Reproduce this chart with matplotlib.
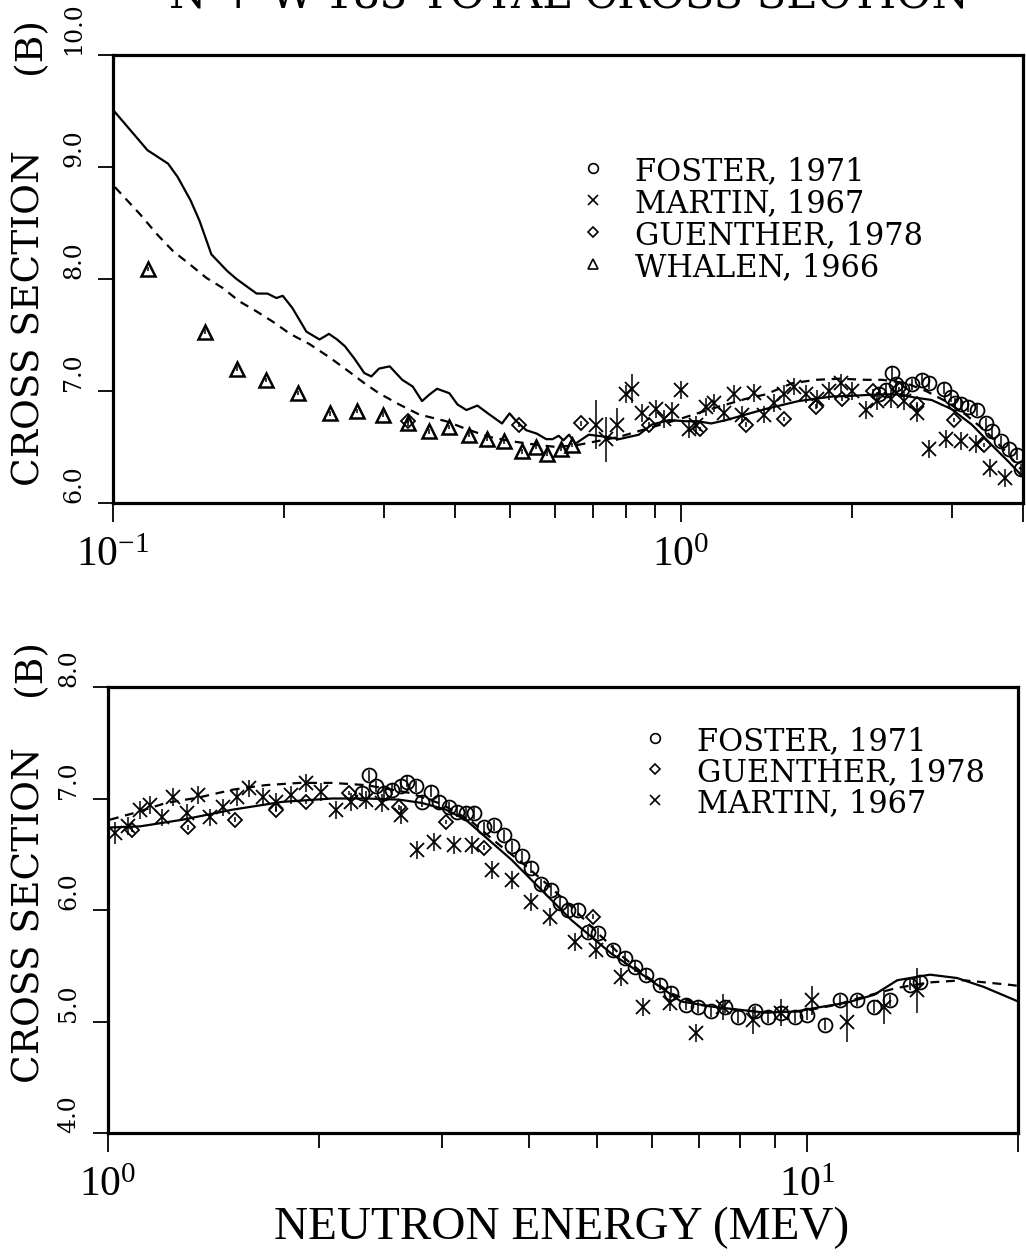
import math
import matplotlib
matplotlib.use("Agg")
import matplotlib.pyplot as plt
from matplotlib.lines import Line2D
from matplotlib.ticker import FixedLocator, NullFormatter

plt.rcParams['mathtext.fontset'] = 'stix'

# ---- upper panel: 0.1 - 4 MeV ----
top_eval_e = [0.1008, 0.115, 0.125, 0.130, 0.137, 0.142, 0.149, 0.159, 0.165, 0.179,
              0.187, 0.194, 0.199, 0.207, 0.219, 0.231, 0.240, 0.248, 0.256, 0.266,
              0.277, 0.285, 0.294, 0.307, 0.323, 0.337, 0.350, 0.361, 0.372, 0.391,
              0.404, 0.419, 0.438, 0.460, 0.469, 0.484, 0.499, 0.513, 0.534, 0.557,
              0.579, 0.594, 0.609, 0.621, 0.635, 0.652, 0.688, 0.740, 0.778, 0.843,
              0.888, 0.953, 1.02, 1.07, 1.13, 1.20, 1.30, 1.41, 1.61, 1.84,
              2.05, 2.23, 2.42, 2.59, 2.76, 2.99, 3.25, 3.52, 3.77, 3.97]
top_eval_xs = [9.49, 9.15, 9.03, 8.91, 8.70, 8.52, 8.22, 8.07, 8.00, 7.87,
               7.87, 7.83, 7.85, 7.74, 7.53, 7.46, 7.51, 7.46, 7.40, 7.29,
               7.16, 7.13, 7.20, 7.22, 7.10, 7.04, 6.91, 6.97, 7.02, 6.98,
               6.88, 6.83, 6.87, 6.79, 6.76, 6.71, 6.80, 6.73, 6.65, 6.62,
               6.57, 6.57, 6.60, 6.56, 6.61, 6.53, 6.61, 6.59, 6.57, 6.61,
               6.70, 6.74, 6.73, 6.73, 6.71, 6.74, 6.79, 6.84, 6.91, 6.95,
               6.96, 6.97, 6.97, 6.94, 6.92, 6.84, 6.70, 6.52, 6.37, 6.25]

top_calc_e = [0.1008, 0.1115, 0.1195, 0.1275, 0.1366, 0.146, 0.156, 0.167, 0.179, 0.191,
              0.205, 0.2216, 0.2406, 0.2608, 0.277, 0.294, 0.319, 0.346, 0.386, 0.419,
              0.460, 0.505, 0.557, 0.603, 0.661, 0.708, 0.778, 0.866, 0.995, 1.13,
              1.30, 1.41, 1.57, 1.73, 1.90, 2.11, 2.26, 2.49, 2.70, 2.92,
              3.17, 3.44, 3.73, 3.97]
top_calc_xs = [8.82, 8.58, 8.40, 8.25, 8.13, 8.01, 7.92, 7.80, 7.71, 7.62,
               7.51, 7.42, 7.30, 7.17, 7.07, 6.98, 6.88, 6.79, 6.73, 6.66,
               6.59, 6.55, 6.52, 6.50, 6.52, 6.55, 6.59, 6.66, 6.75, 6.84,
               6.93, 6.97, 7.07, 7.10, 7.11, 7.10, 7.10, 7.07, 7.00, 6.91,
               6.79, 6.64, 6.46, 6.30]

whalen_e = [0.1152, 0.1451, 0.1652, 0.186, 0.2115, 0.2407, 0.2685, 0.2983, 0.330, 0.360,
            0.391, 0.423, 0.456, 0.488, 0.525, 0.555, 0.582, 0.616, 0.644]
whalen_xs = [8.09, 7.53, 7.20, 7.10, 6.98, 6.80, 6.82, 6.79, 6.71, 6.64,
             6.68, 6.61, 6.57, 6.55, 6.46, 6.50, 6.44, 6.48, 6.52]

guenther_top_e = [0.330, 0.519, 0.667, 0.879, 1.08, 1.30, 1.52, 1.73, 1.92, 2.18,
                  2.42, 2.60, 3.02, 3.41]
guenther_top_xs = [6.73, 6.70, 6.71, 6.70, 6.66, 6.70, 6.75, 6.86, 6.93, 7.00,
                   7.02, 6.88, 6.74, 6.52]

martin_top_e = [0.709, 0.738, 0.772, 0.801, 0.820, 0.854, 0.904, 0.934, 0.964, 1.000,
                1.033, 1.063, 1.106, 1.143, 1.190, 1.239, 1.280, 1.344, 1.399, 1.457,
                1.517, 1.580, 1.658, 1.734, 1.820, 1.911, 1.998, 2.114, 2.211, 2.339,
                2.465, 2.599, 2.729, 2.923, 3.105, 3.300, 3.506, 3.726]
martin_top_xs = [6.70, 6.57, 6.70, 6.97, 7.02, 6.80, 6.84, 6.75, 6.82, 7.01,
                 6.66, 6.70, 6.86, 6.89, 6.80, 6.97, 6.79, 6.98, 6.79, 6.89,
                 6.97, 7.04, 6.97, 6.93, 7.00, 7.07, 7.00, 6.83, 6.91, 6.93,
                 6.91, 6.80, 6.48, 6.57, 6.55, 6.53, 6.31, 6.22]
martin_top_err = [0.22, 0.20, 0.15, 0.08, 0.13, 0.08, 0.08, 0.08, 0.08, 0.08,
                  0.08, 0.08, 0.08, 0.08, 0.08, 0.08, 0.08, 0.08, 0.08, 0.08,
                  0.08, 0.08, 0.08, 0.08, 0.08, 0.08, 0.08, 0.08, 0.08, 0.08,
                  0.08, 0.08, 0.08, 0.08, 0.08, 0.08, 0.08, 0.08]

foster_top_e = [2.23, 2.293, 2.349, 2.387, 2.446, 2.547, 2.652, 2.729, 2.900, 2.983,
                3.042, 3.117, 3.207, 3.313, 3.436, 3.521, 3.652, 3.772, 3.896, 3.96]
foster_top_xs = [6.97, 7.01, 7.16, 7.06, 7.02, 7.06, 7.10, 7.07, 7.02, 6.95,
                 6.89, 6.88, 6.86, 6.83, 6.71, 6.64, 6.55, 6.48, 6.43, 6.30]

# ---- lower panel: 1 - 20 MeV ----
bot_eval_e = [1.0066, 1.111, 1.279, 1.507, 1.776, 2.092, 2.339, 2.606, 2.811, 3.041,
              3.246, 3.501, 3.776, 4.031, 4.305, 4.597, 4.909, 5.242, 5.597, 6.256,
              6.594, 7.371, 8.683, 9.678, 10.23, 11.40, 12.46, 13.44, 14.97, 16.36,
              17.87, 19.66, 20.0]
bot_eval_xs = [6.74, 6.75, 6.81, 6.90, 6.97, 7.00, 7.00, 6.99, 6.96, 6.90,
               6.81, 6.63, 6.45, 6.27, 6.09, 5.91, 5.76, 5.61, 5.49, 5.28,
               5.18, 5.13, 5.08, 5.09, 5.12, 5.17, 5.24, 5.37, 5.42, 5.39,
               5.31, 5.20, 5.18]

bot_calc_e = [1.0066, 1.09, 1.21, 1.35, 1.51, 1.68, 1.88, 2.09, 2.34, 2.70,
              3.00, 3.30, 3.60, 3.95, 4.30, 4.65, 5.00, 5.40, 5.90, 6.40,
              7.00, 8.00, 9.00, 10.0, 11.0, 12.0, 13.4, 14.9, 16.7, 19.4, 20.0]
bot_calc_xs = [6.81, 6.87, 6.96, 7.01, 7.08, 7.12, 7.14, 7.14, 7.12, 7.05,
               6.95, 6.80, 6.60, 6.40, 6.20, 6.00, 5.80, 5.60, 5.40, 5.25,
               5.15, 5.10, 5.08, 5.10, 5.15, 5.22, 5.30, 5.35, 5.37, 5.33, 5.32]

foster_bot_e = [2.308, 2.362, 2.416, 2.480, 2.547, 2.623, 2.676, 2.755, 2.811, 2.895,
                2.971, 3.071, 3.152, 3.246, 3.333, 3.444, 3.559, 3.678, 3.776, 3.902,
                4.031, 4.166, 4.305, 4.434, 4.551, 4.703, 4.860, 5.022, 5.276, 5.488,
                5.671, 5.879, 6.155, 6.380, 6.704, 6.972, 7.276, 7.618, 7.950, 8.405,
                8.770, 9.152, 9.583, 10.0, 10.61, 11.14, 11.78, 12.46, 13.13, 14.02, 14.49]
foster_bot_xs = [7.05, 7.21, 7.11, 7.05, 7.08, 7.11, 7.15, 7.11, 6.97, 7.06,
                 6.97, 6.92, 6.88, 6.87, 6.87, 6.74, 6.76, 6.67, 6.57, 6.48,
                 6.38, 6.23, 6.18, 6.06, 6.00, 6.00, 5.80, 5.79, 5.64, 5.57,
                 5.49, 5.42, 5.33, 5.26, 5.15, 5.13, 5.09, 5.13, 5.04, 5.09,
                 5.04, 5.08, 5.04, 5.06, 4.97, 5.19, 5.19, 5.13, 5.19, 5.33, 5.35]

guenther_bot_e = [1.082, 1.300, 1.517, 1.741, 1.921, 2.212, 2.606, 3.041, 3.444, 4.941]
guenther_bot_xs = [6.72, 6.74, 6.81, 6.90, 6.97, 7.05, 6.92, 6.79, 6.56, 5.94]

martin_bot_e = [1.023, 1.068, 1.111, 1.148, 1.194, 1.238, 1.296, 1.344, 1.397, 1.458,
                1.527, 1.593, 1.663, 1.741, 1.829, 1.921, 2.018, 2.120, 2.226, 2.339,
                2.465, 2.623, 2.765, 2.923, 3.121, 3.311, 3.535, 3.776, 4.031, 4.291,
                4.657, 4.989, 5.417, 5.821, 6.360, 6.925, 7.567, 8.350, 9.152, 10.16,
                11.40, 12.88, 14.35]
martin_bot_xs = [6.69, 6.75, 6.90, 6.94, 6.83, 7.01, 6.87, 7.03, 6.83, 6.92,
                 7.01, 7.09, 7.01, 6.97, 7.03, 7.14, 7.06, 6.90, 6.97, 6.99,
                 6.96, 6.85, 6.54, 6.61, 6.58, 6.58, 6.36, 6.27, 6.07, 5.94,
                 5.71, 5.64, 5.40, 5.13, 5.17, 4.90, 5.13, 5.01, 5.08, 5.19,
                 5.00, 5.13, 5.28]
martin_bot_err = [0.10, 0.08, 0.08, 0.08, 0.08, 0.08, 0.08, 0.08, 0.08, 0.08,
                  0.08, 0.08, 0.08, 0.08, 0.08, 0.08, 0.08, 0.08, 0.08, 0.08,
                  0.08, 0.08, 0.08, 0.08, 0.08, 0.08, 0.08, 0.08, 0.08, 0.08,
                  0.08, 0.08, 0.08, 0.08, 0.08, 0.08, 0.12, 0.12, 0.12, 0.13,
                  0.18, 0.15, 0.20]

top_legend = [('o', 'FOSTER, 1971'), ('x', 'MARTIN, 1967'),
              ('D', 'GUENTHER, 1978'), ('^', 'WHALEN, 1966')]
bot_legend = [('o', 'FOSTER, 1971'), ('D', 'GUENTHER, 1978'), ('x', 'MARTIN, 1967')]

SERIF = 'DejaVu Serif'
TIMES = 'Liberation Serif'
W, H = 1026.0, 1256.0


def draw_points(ax, e, xs, marker, ms, err, mew=1.3):
    ax.errorbar(e, xs, yerr=err, fmt=marker, ms=ms, mfc='none', mec='black',
                mew=mew, ecolor='black', elinewidth=1.1, capsize=0, zorder=4)


def style_axis(ax, xmin, xmax, ymin, ymax, majors, minors, edge):
    ax.set_xscale('log')
    ax.set_xlim(xmin, xmax)
    ax.set_ylim(ymin, ymax)
    for side in ['left', 'bottom', 'top', 'right']:
        ax.spines[side].set_linewidth(2.3)
    ax.xaxis.set_major_locator(FixedLocator(majors + [edge]))
    ax.xaxis.set_minor_locator(FixedLocator(minors))
    ax.xaxis.set_minor_formatter(NullFormatter())
    exps = ['$\\mathregular{10^{%d}}$' % round(math.log10(m)) for m in majors]
    ax.set_xticklabels(exps + [''], fontsize=30, family=TIMES)
    ax.tick_params(axis='x', which='major', direction='out', length=14, width=1.3, pad=10)
    ax.tick_params(axis='x', which='minor', direction='out', length=11, width=1.3)
    yt = list(range(int(ymin), int(ymax) + 1))
    ax.set_yticks(yt)
    ax.set_yticklabels(['%.1f' % v for v in yt], rotation=90, va='bottom',
                       fontsize=17, family=SERIF)
    ax.tick_params(axis='y', direction='out', length=11, width=1.3, pad=9)


def draw_legend(fig, entries, mx, tx, rows):
    # hand-placed key: small open symbol, then the label
    for (marker, label), ry in zip(entries, rows):
        ms = 5.5 if marker == 'D' else 7
        fig.add_artist(Line2D([mx / W], [1 - ry / H], transform=fig.transFigure,
                              ls='none', marker=marker, ms=ms, mfc='none',
                              mec='black', mew=1.2))
        fig.text(tx / W, 1 - ry / H, label, ha='left', va='center_baseline',
                 fontsize=22, family=SERIF)


fig = plt.figure(figsize=(10.26, 12.56), dpi=100)

ax1 = fig.add_axes([113 / W, 1 - 503 / H, 910 / W, 448 / H])
ax2 = fig.add_axes([108 / W, 1 - 1133 / H, 910 / W, 446 / H])

# upper panel
ax1.plot(top_eval_e, top_eval_xs, color='black', lw=1.6, zorder=3)
ax1.plot(top_calc_e, top_calc_xs, color='black', lw=1.6, ls=(0, (4, 3)), zorder=3)
draw_points(ax1, whalen_e, whalen_xs, '^', 10, 0.02, mew=1.8)
draw_points(ax1, guenther_top_e, guenther_top_xs, 'D', 7.5, 0.02)
draw_points(ax1, martin_top_e, martin_top_xs, 'x', 10, martin_top_err)
draw_points(ax1, foster_top_e, foster_top_xs, 'o', 10, 0.05)
style_axis(ax1, 0.1, 4.0, 6.0, 10.0, [0.1, 1.0],
           [0.2, 0.3, 0.4, 0.5, 0.6, 0.7, 0.8, 0.9, 2.0, 3.0], 4.0)

# lower panel
ax2.plot(bot_eval_e, bot_eval_xs, color='black', lw=1.6, zorder=3)
ax2.plot(bot_calc_e, bot_calc_xs, color='black', lw=1.6, ls=(0, (4, 3)), zorder=3)
draw_points(ax2, guenther_bot_e, guenther_bot_xs, 'D', 7.5, 0.02)
draw_points(ax2, martin_bot_e, martin_bot_xs, 'x', 10, martin_bot_err)
draw_points(ax2, foster_bot_e, foster_bot_xs, 'o', 10, 0.05)
style_axis(ax2, 1.0, 20.0, 4.0, 8.0, [1.0, 10.0],
           [2, 3, 4, 5, 6, 7, 8, 9], 20.0)

draw_legend(fig, top_legend, 593, 635, [168, 200, 232, 264])
draw_legend(fig, bot_legend, 655, 697, [738, 769, 800])

# axis titles
for cy, by in [(318, 45), (915, 668)]:
    fig.text(30 / W, 1 - cy / H, 'CROSS SECTION', rotation=90, ha='center',
             va='center', fontsize=27, family=SERIF)
    fig.text(30 / W, 1 - by / H, '(B)', rotation=90, ha='center', va='center',
             fontsize=27, family=SERIF)
fig.text(562 / W, 1 - 1228 / H, 'NEUTRON ENERGY (MEV)', ha='center', va='center',
         fontsize=34, family=TIMES)
# heading runs off the top edge of the sheet
fig.text(569 / W, 1 + 5 / H, 'N + W-183 TOTAL CROSS SECTION', ha='center',
         va='center', fontsize=31, family=SERIF)

fig.savefig('out.png', dpi=100, facecolor='white')
